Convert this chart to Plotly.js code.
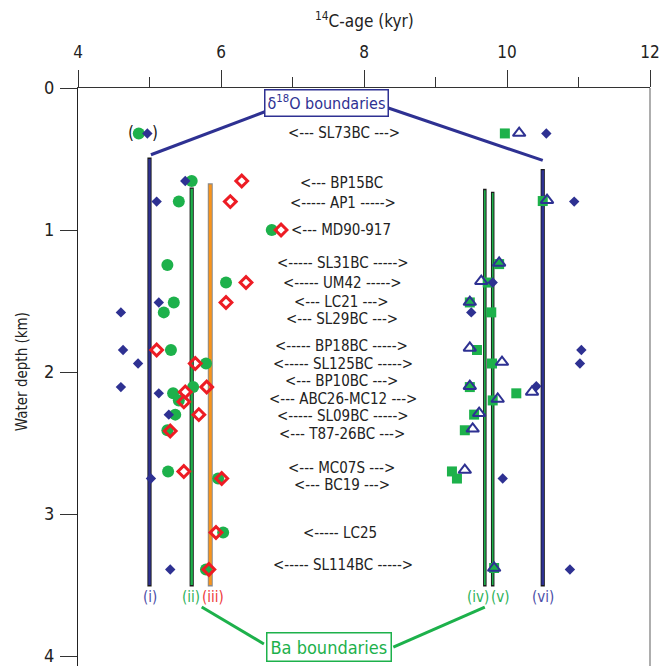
<!DOCTYPE html>
<html><head><meta charset="utf-8">
<script src="https://cdn.plot.ly/plotly-3.0.1.min.js"></script>
<style>body{margin:0;background:#fff}#chart{width:659px;height:666px}</style>
</head><body><div id="chart"></div>
<script>
const FONT = '"Liberation Sans Narrow", "Arial Narrow", "DejaVu Sans Condensed", sans-serif';
const NAVY = '#2E3192', GREEN = '#1DB14B', RED = '#ED1C24', ORANGE = '#F7941D';

// Blue filled diamonds (age kyr, depth km)
const blueDiamondAge   = [4.97, 10.55, 5.50, 5.10, 10.94, 5.13, 9.80, 4.60, 9.50, 4.63, 11.04, 4.84, 11.02, 4.60, 10.41, 5.13, 5.27, 5.02, 9.94, 5.29, 10.88];
const blueDiamondDepth = [0.32, 0.32, 0.655, 0.80, 0.80, 1.51, 1.37, 1.58, 1.58, 1.845, 1.845, 1.94, 1.94, 2.106, 2.10, 2.15, 2.30, 2.75, 2.75, 3.39, 3.39];

// Green filled circles
const greenCircleAge   = [4.85, 5.59, 5.41, 6.71, 5.25, 6.07, 5.34, 5.20, 5.30, 5.79, 5.61, 5.33, 5.41, 5.36, 5.25, 5.26, 5.96, 6.03, 5.79];
const greenCircleDepth = [0.32, 0.655, 0.80, 1.00, 1.246, 1.37, 1.51, 1.58, 1.845, 1.94, 2.106, 2.15, 2.20, 2.30, 2.41, 2.70, 2.75, 3.13, 3.39];

// Red open diamonds
const redDiamondAge   = [6.29, 6.13, 6.84, 6.35, 6.07, 5.10, 5.64, 5.80, 5.50, 5.48, 5.69, 5.29, 5.48, 6.01, 5.93, 5.83];
const redDiamondDepth = [0.655, 0.80, 1.00, 1.37, 1.51, 1.845, 1.94, 2.106, 2.14, 2.21, 2.30, 2.415, 2.70, 2.75, 3.13, 3.39];

// Green filled squares
const greenSquareAge   = [9.97, 10.50, 9.89, 9.73, 9.48, 9.78, 9.58, 9.79, 9.48, 10.13, 9.80, 9.54, 9.41, 9.23, 9.30, 9.82];
const greenSquareDepth = [0.32, 0.796, 1.24, 1.37, 1.51, 1.58, 1.845, 1.94, 2.106, 2.15, 2.20, 2.30, 2.41, 2.70, 2.75, 3.38];

// Blue open triangles
const blueTriangleAge   = [10.17, 10.56, 9.89, 9.64, 9.48, 9.48, 9.93, 9.48, 10.35, 9.87, 9.61, 9.52, 9.41, 9.82];
const blueTriangleDepth = [0.317, 0.79, 1.232, 1.36, 1.507, 1.83, 1.93, 2.10, 2.14, 2.19, 2.29, 2.40, 2.69, 3.38];

// Boundary lines
const boundaryLabels = ['(i)', '(ii)', '(iii)', '(iv)', '(v)', '(vi)'];
const boundaryAges   = [5.00, 5.59, 5.85, 9.69, 9.80, 10.50];
const boundaryTop    = [0.49, 0.70, 0.67, 0.71, 0.73, 0.57];
const boundaryBottom = [3.51, 3.51, 3.51, 3.51, 3.51, 3.51];

// Core labels
const coreLabels = ['<--- SL73BC --->', '<--- BP15BC', '<----- AP1 ----->', '<--- MD90-917',
  '<----- SL31BC ----->', '<----- UM42 ----->', '<--- LC21 --->', '<--- SL29BC --->',
  '<----- BP18BC ----->', '<----- SL125BC ----->', '<--- BP10BC --->', '<--- ABC26-MC12 --->',
  '<----- SL09BC ----->', '<--- T87-26BC --->', '<--- MC07S --->', '<--- BC19 --->',
  '<----- LC25', '<----- SL114BC ----->'];
const coreDepths = [0.317, 0.669, 0.81, 1.0, 1.235, 1.37, 1.505, 1.627, 1.815, 1.94, 2.064, 2.19, 2.31, 2.437, 2.675, 2.797, 3.134, 3.359];
const coreLabelAge = [7.72, 7.68, 7.70, 7.68, 7.70, 7.70, 7.69, 7.69, 7.69, 7.70, 7.69, 7.70, 7.70, 7.69, 7.69, 7.69, 7.67, 7.70];

const xTicks = [4, 6, 8, 10, 12];
const yTicks = [0, 1, 2, 3, 4];

const esc = s => s.replace(/</g, '&lt;').replace(/>/g, '&gt;');

const traces = [];
const bOutline = ['#1a1a1a', '#1a1a1a', '#8a8a8a', '#1a1a1a', '#1a1a1a', '#1a1a1a'];
const bInner = [NAVY, GREEN, ORANGE, GREEN, GREEN, NAVY];
const bOutW = [4.2, 4.2, 5, 3.5, 3.5, 4.2];
const bInW = [2.4, 2.4, 3, 1.6, 1.6, 2.6];
boundaryAges.forEach((a, i) => {
  traces.push({x: [a, a], y: [boundaryTop[i], boundaryBottom[i]], mode: 'lines', line: {color: bOutline[i], width: bOutW[i]}, hoverinfo: 'skip', showlegend: false});
  traces.push({x: [a, a], y: [boundaryTop[i] + 0.01, boundaryBottom[i] - 0.01], mode: 'lines', line: {color: bInner[i], width: bInW[i]}, hoverinfo: 'skip', showlegend: false});
});

traces.push({x: greenSquareAge, y: greenSquareDepth, mode: 'markers', marker: {symbol: 'square', size: 10, color: GREEN}, showlegend: false});
traces.push({x: greenCircleAge, y: greenCircleDepth, mode: 'markers', marker: {symbol: 'circle', size: 12, color: GREEN}, showlegend: false});
traces.push({x: blueDiamondAge, y: blueDiamondDepth, mode: 'markers', marker: {symbol: 'diamond', size: 8, color: NAVY}, showlegend: false});
traces.push({x: blueTriangleAge, y: blueTriangleDepth, mode: 'markers', marker: {symbol: 'triangle-up-open', size: 11, color: NAVY, line: {width: 2, color: NAVY}}, showlegend: false});
traces.push({x: redDiamondAge, y: redDiamondDepth, mode: 'markers', marker: {symbol: 'diamond-open', size: 9, color: RED, line: {width: 3, color: RED}}, showlegend: false});

const annotations = [];
coreLabels.forEach((t, i) => {
  annotations.push({x: coreLabelAge[i], y: coreDepths[i], text: esc(t), showarrow: false, font: {family: FONT, size: 15, color: '#222'}});
});
const bLabelColor = ['#4b4fa8', '#2DB35A', '#EE3B3B', '#2DB35A', '#2DB35A', '#4b4fa8'];
const bLabelAnchor = ['center', 'right', 'left', 'right', 'left', 'center'];
const bLabelShift = [0, 0.15, -0.15, 0.09, -0.05, 0];
boundaryLabels.forEach((t, i) => {
  annotations.push({x: boundaryAges[i] + bLabelShift[i], xanchor: bLabelAnchor[i], y: boundaryBottom[i], yanchor: 'top', yshift: 0, text: t, showarrow: false, font: {family: FONT, size: 15, color: bLabelColor[i]}});
});
annotations.push({x: 4.74, y: 0.32, text: '(', showarrow: false, font: {family: FONT, size: 17, color: '#222'}});
annotations.push({x: 5.08, y: 0.32, text: ')', showarrow: false, font: {family: FONT, size: 17, color: '#222'}});
annotations.push({x: 7.48, y: 0.106, text: 'δ<sup>18</sup>O boundaries', showarrow: false, bgcolor: '#fff', bordercolor: NAVY, borderwidth: 1.5, borderpad: 2, font: {family: FONT, size: 16, color: NAVY}});
annotations.push({x: 7.51, y: 3.937, text: 'Ba boundaries', showarrow: false, bgcolor: '#fff', bordercolor: GREEN, borderwidth: 1.5, borderpad: 3, font: {family: FONT, size: 18, color: GREEN}});
// axis titles
annotations.push({xref: 'paper', yref: 'paper', x: 0.5, y: 1.1176, xanchor: 'center', yanchor: 'middle', text: '<sup>14</sup>C-age (kyr)', showarrow: false, font: {family: FONT, size: 17, color: '#222'}});
annotations.push({xref: 'paper', yref: 'paper', x: -0.098, y: 0.51, xanchor: 'center', yanchor: 'middle', textangle: -90, text: 'Water depth (km)', showarrow: false, font: {family: FONT, size: 15, color: '#222'}});

const shapes = [
  {type: 'line', x0: 6.64, y0: 0.162, x1: boundaryAges[0] + 0.02, y1: boundaryTop[0] - 0.02, line: {color: NAVY, width: 3}},
  {type: 'line', x0: 8.34, y0: 0.141, x1: boundaryAges[5], y1: boundaryTop[5] - 0.06, line: {color: NAVY, width: 3}},
  {type: 'line', x0: 6.60, y0: 3.915, x1: boundaryAges[1] + 0.14, y1: 3.655, line: {color: GREEN, width: 3}},
  {type: 'line', x0: 8.41, y0: 3.937, x1: boundaryAges[3], y1: 3.655, line: {color: GREEN, width: 3}},
  {type: 'line', xref: 'paper', yref: 'paper', x0: 1, x1: 1, y0: 0, y1: 1, line: {color: '#777', width: 1.2}}
];

const layout = {
  width: 659, height: 666,
  margin: {l: 78, r: 9, t: 88, b: 0},
  paper_bgcolor: '#fff', plot_bgcolor: '#fff',
  font: {family: FONT, color: '#222'},
  showlegend: false,
  xaxis: {
    side: 'top', range: [4, 12], tickvals: xTicks, ticktext: xTicks.map(String),
    ticks: 'outside', ticklen: 17, tickwidth: 1, tickcolor: '#333',
    minor: {tickvals: [5, 7, 9, 11], ticks: 'outside', ticklen: 10, tickcolor: '#333', showgrid: false},
    showline: true, linecolor: '#333', linewidth: 1, showgrid: false, zeroline: false,
    ticklabeloverflow: 'allow', ticklabelstandoff: 5,
    tickfont: {family: FONT, size: 17, color: '#222'}
  },
  yaxis: {
    range: [4.07, 0], tickvals: yTicks, ticktext: yTicks.map(String),
    ticks: 'outside', ticklen: 17, tickwidth: 1, tickcolor: '#333',
    showline: true, linecolor: '#222', linewidth: 1.2, showgrid: false, zeroline: false,
    ticklabeloverflow: 'allow', ticklabelstandoff: 2,
    tickfont: {family: FONT, size: 18, color: '#222'}
  },
  annotations: annotations,
  shapes: shapes
};

Plotly.newPlot('chart', traces, layout, {displayModeBar: false, staticPlot: true});
</script></body></html>
